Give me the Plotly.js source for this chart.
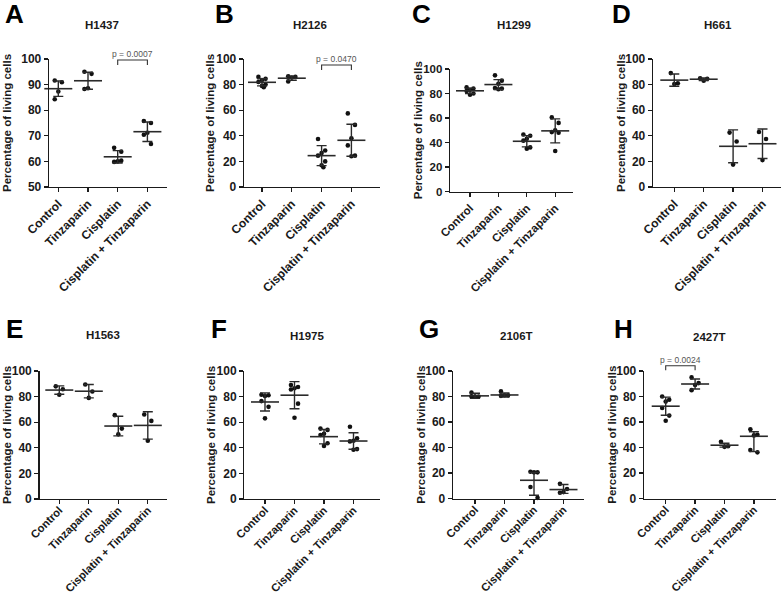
<!DOCTYPE html>
<html>
<head>
<meta charset="utf-8">
<script src="https://cdn.plot.ly/plotly-3.0.1.min.js"></script>
<style>
  html, body { margin: 0; padding: 0; background: #fff; }
  #chart { width: 784px; height: 597px; }
</style>
</head>
<body>
<div id="chart"></div>
<script>
// Treatment groups shared by every cell line
const CATEGORIES = ['Control', 'Tinzaparin', 'Cisplatin', 'Cisplatin + Tinzaparin'];
const Y_LABEL = 'Percentage of living cells';

// H1437
const A_points = [[91.6, 90.9, 87.3, 84.3], [95.0, 94.2, 88.6, 88.3], [65.3, 63.8, 60.0, 59.8, 60.3], [75.8, 75.0, 71.2, 70.4, 66.8]];
const A_mean = [88.4, 91.5, 61.8, 71.6];
const A_sd = [3.0, 3.3, 2.4, 3.8];

// H2126
const B_points = [[86, 84.5, 83.5, 82, 80, 79, 78], [86.5, 86, 85.5, 82.5], [37.5, 28.5, 26.5, 24.5, 20, 17, 15.5], [57.5, 48.5, 38, 32.5, 24.5, 24]];
const B_mean = [81.8, 85.0, 24.5, 36.5];
const B_sd = [2.8, 1.6, 7.8, 12.5];

// H1299
const C_points = [[85, 84, 83, 82, 80, 79], [94.8, 90.5, 88, 84.5, 84, 83.5], [46.5, 45.5, 43, 41.5, 36, 35], [60.5, 56, 50, 48.5, 48, 33]];
const C_mean = [82.2, 87.3, 41.0, 49.5];
const C_sd = [2.2, 4.0, 4.6, 9.8];

// H661
const D_points = [[89, 81, 80.5], [85, 84.5, 83], [42.5, 35.5, 17.5], [43, 37.5, 21]];
const D_mean = [83.5, 84.2, 31.8, 33.8];
const D_sd = [4.8, 1.0, 12.8, 11.5];

// H1563
const E_points = [[88, 85.7, 81.5], [89.5, 84, 79], [65.5, 55, 50.5], [66, 61, 45.5]];
const E_mean = [85.1, 84.2, 57.0, 57.5];
const E_sd = [3.3, 5.2, 7.7, 10.7];

// H1975
const F_points = [[81.5, 81, 80.5, 76.5, 72, 63], [89, 87.5, 86.5, 85.5, 74.5, 63.5], [55, 54, 51, 50, 43.5, 41.5], [56.5, 47.5, 45.5, 45, 39, 38.5]];
const F_mean = [75.8, 81.1, 48.7, 45.3];
const F_sd = [7.1, 10.6, 5.6, 6.4];

// 2106T
const G_points = [[83, 80, 80, 80], [84, 81, 81, 80.5], [21, 20.5, 20.5, 9, 0.5], [11.5, 7.5, 5, 4.5]];
const G_mean = [80.5, 81.2, 14.3, 7.0];
const G_sd = [2.0, 1.6, 6.2, 4.0];
const G_sdLow = [2.0, 1.6, 11.7, 3.0];

// 2427T
const H_points = [[80, 77.5, 76, 71, 65, 61], [95, 90.5, 89, 85], [44.5, 41, 40.5], [54.3, 50, 49.5, 38, 36.2]];
const H_mean = [72.4, 89.8, 41.8, 48.8];
const H_sd = [7.1, 3.9, 1.5, 3.5];
const H_sdLow = [7.1, 3.9, 1.5, 12.0];

// Pairwise comparisons shown with brackets
const COMPARISONS = [
  { panel: 'A', from: 2, to: 3, bar: 99.6, leg: 97.7, label: 'p = 0.0007' },
  { panel: 'B', from: 2, to: 3, bar: 95.3, leg: 91.4, label: 'p = 0.0470' },
  { panel: 'H', from: 0, to: 1, bar: 104.1, leg: 100.6, label: 'p = 0.0024' }
];

const W = 784, H = 597;
const FONT = '"Liberation Sans", Arial, Helvetica, sans-serif';
const INK = '#1a1a1a';

// Panel geometry in pixels: axis extents, first category position and spacing
const PANELS = [
  { letter: 'A', title: 'H1437', pts: A_points, mean: A_mean, sd: A_sd, left: 49, right: 167, c0: 58.3, step: 29.7, top: 59, bottom: 187, ymin: 50, ymax: 100, dtick: 10, tx: 102, ty: 25, lx: 14, ly: 14, yl: 7, fs: 12, xfs: 12, lab: 0 },
  { letter: 'B', title: 'H2126', pts: B_points, mean: B_mean, sd: B_sd, left: 244, right: 380, c0: 262, step: 29.8, top: 59, bottom: 187, ymin: 0, ymax: 100, dtick: 20, tx: 310, ty: 25, lx: 224, ly: 14, yl: 210, fs: 12, xfs: 12, lab: 0 },
  { letter: 'C', title: 'H1299', pts: C_points, mean: C_mean, sd: C_sd, left: 450, right: 573, c0: 470, step: 28.4, top: 69, bottom: 191.5, ymin: 0, ymax: 100, dtick: 20, tx: 514, ty: 25, lx: 421, ly: 14, yl: 418, fs: 11.5, xfs: 11.5, lab: 0 },
  { letter: 'D', title: 'H661', pts: D_points, mean: D_mean, sd: D_sd, left: 653, right: 781, c0: 674.3, step: 29.4, top: 59, bottom: 187, ymin: 0, ymax: 100, dtick: 20, tx: 718, ty: 25, lx: 621, ly: 14, yl: 621, fs: 12, xfs: 12, lab: 0 },
  { letter: 'E', title: 'H1563', pts: E_points, mean: E_mean, sd: E_sd, left: 39.5, right: 167, c0: 59.3, step: 29.5, top: 371, bottom: 499, ymin: 0, ymax: 100, dtick: 20, tx: 103, ty: 335, lx: 14, ly: 329, yl: 7, fs: 12, xfs: 11.2, lab: -5 },
  { letter: 'F', title: 'H1975', pts: F_points, mean: F_mean, sd: F_sd, left: 244.3, right: 380, c0: 265, step: 29.5, top: 371, bottom: 499, ymin: 0, ymax: 100, dtick: 20, tx: 307, ty: 336, lx: 219, ly: 329, yl: 211, fs: 12, xfs: 11.2, lab: -5 },
  { letter: 'G', title: '2106T', pts: G_points, mean: G_mean, sd: G_sd, sdLow: G_sdLow, left: 453, right: 584, c0: 475, step: 29.5, top: 371, bottom: 498.5, ymin: 0, ymax: 100, dtick: 20, tx: 516, ty: 336, lx: 429, ly: 329, yl: 421, fs: 12, xfs: 11.2, lab: -5 },
  { letter: 'H', title: '2427T', pts: H_points, mean: H_mean, sd: H_sd, sdLow: H_sdLow, left: 644, right: 776, c0: 665.7, step: 29.4, top: 371, bottom: 498.5, ymin: 0, ymax: 100, dtick: 20, tx: 709, ty: 337, lx: 623, ly: 329, yl: 612, fs: 12, xfs: 11.2, lab: -5 }
];

// Horizontal spread for the individual points within a group (category units)
const SPREAD = [-0.12, 0.12, 0, -0.12, 0.12, 0, 0.06];

const px2x = v => v / W;
const px2y = v => 1 - v / H;

const traces = [];
const layout = {
  width: W, height: H, autosize: false,
  margin: { l: 0, r: 0, t: 0, b: 0 },
  paper_bgcolor: '#fff', plot_bgcolor: 'rgba(0,0,0,0)',
  showlegend: false,
  font: { family: FONT, color: INK },
  annotations: [], shapes: []
};

const panelIndex = {};

PANELS.forEach((p, i) => {
  const n = i + 1;
  const xa = 'xaxis' + (n === 1 ? '' : n), ya = 'yaxis' + (n === 1 ? '' : n);
  const xr = 'x' + (n === 1 ? '' : n), yr = 'y' + (n === 1 ? '' : n);
  panelIndex[p.letter] = { p, xr, yr };

  layout[xa] = {
    domain: [px2x(p.left), px2x(p.right)],
    range: [(p.left - p.c0) / p.step, (p.right - p.c0) / p.step],
    anchor: yr, fixedrange: true,
    tickvals: [0, 1, 2, 3], ticktext: CATEGORIES, tickangle: -45,
    ticks: 'outside', ticklen: 4, tickwidth: 1.3, tickcolor: INK,
    ticklabelstandoff: p.lab,
    showline: true, linecolor: INK, linewidth: 1.3,
    showgrid: false, zeroline: false,
    tickfont: { family: FONT, size: p.xfs, color: INK, weight: 700 }
  };
  layout[ya] = {
    domain: [px2y(p.bottom), px2y(p.top)],
    range: [p.ymin, p.ymax],
    anchor: xr, fixedrange: true,
    tick0: p.ymin, dtick: p.dtick,
    ticks: 'outside', ticklen: 4, tickwidth: 1.3, tickcolor: INK,
    showline: true, linecolor: INK, linewidth: 1.3,
    showgrid: false, zeroline: false,
    tickfont: { family: FONT, size: p.fs, color: INK, weight: 700 }
  };

  // individual measurements
  const xs = [], ys = [];
  p.pts.forEach((grp, g) => grp.forEach((v, k) => { xs.push(g + SPREAD[k % SPREAD.length]); ys.push(v); }));
  traces.push({
    type: 'scatter', mode: 'markers', x: xs, y: ys, xaxis: xr, yaxis: yr,
    cliponaxis: false, hoverinfo: 'skip',
    marker: { symbol: 'circle', size: 4.6, color: '#111' }
  });

  // mean line with SD error bars
  traces.push({
    type: 'scatter', mode: 'markers', x: [0, 1, 2, 3], y: p.mean, xaxis: xr, yaxis: yr,
    cliponaxis: false, hoverinfo: 'skip',
    marker: { symbol: 'line-ew', size: 20, color: INK, line: { color: '#2a2a2a', width: 1.6 } },
    error_y: { type: 'data', symmetric: false, array: p.sd, arrayminus: p.sdLow || p.sd, color: '#2a2a2a', thickness: 1.4, width: 5 }
  });

  // cell line title
  layout.annotations.push({
    xref: 'paper', yref: 'paper', x: px2x(p.tx), y: px2y(p.ty), xanchor: 'center', yanchor: 'middle',
    text: p.title, showarrow: false, font: { family: FONT, size: 11.5, color: INK, weight: 700 }
  });
  // panel letter
  layout.annotations.push({
    xref: 'paper', yref: 'paper', x: px2x(p.lx), y: px2y(p.ly), xanchor: 'center', yanchor: 'middle',
    text: p.letter, showarrow: false, font: { family: FONT, size: 26, color: '#000', weight: 700 }
  });
  // y-axis title
  layout.annotations.push({
    xref: 'paper', yref: 'paper', x: px2x(p.yl), y: px2y((p.top + p.bottom) / 2), xanchor: 'center', yanchor: 'middle',
    text: Y_LABEL, textangle: -90, showarrow: false, font: { family: FONT, size: 11.5, color: INK, weight: 700 }
  });
});

// value on a panel's y scale -> paper fraction
function valueToPaper(p, v) {
  const d0 = px2y(p.bottom), d1 = px2y(p.top);
  return d0 + (v - p.ymin) / (p.ymax - p.ymin) * (d1 - d0);
}

COMPARISONS.forEach(c => {
  const { p, xr } = panelIndex[c.panel];
  const yb = valueToPaper(p, c.bar), yl = valueToPaper(p, c.leg);
  layout.shapes.push({
    type: 'path', xref: xr, yref: 'paper',
    path: `M ${c.from},${yl} L ${c.from},${yb} L ${c.to},${yb} L ${c.to},${yl}`,
    line: { color: '#333', width: 1.1 }
  });
  layout.annotations.push({
    xref: xr, yref: 'paper', x: (c.from + c.to) / 2, y: yb, xanchor: 'center', yanchor: 'bottom', yshift: -1,
    text: c.label, showarrow: false, font: { family: FONT, size: 8.5, color: '#555' }
  });
});

Plotly.newPlot('chart', traces, layout, { staticPlot: true, displayModeBar: false });
</script>
</body>
</html>
